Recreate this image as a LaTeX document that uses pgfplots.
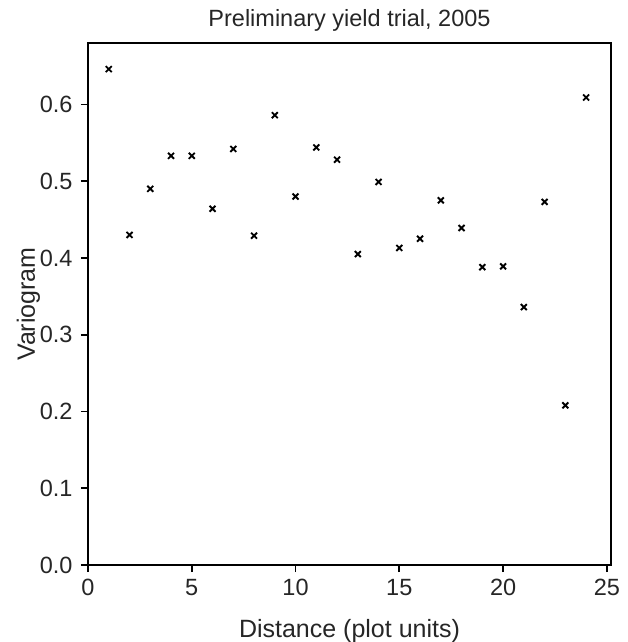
\documentclass[border=0pt]{standalone}
\usepackage{fontspec}
\setmainfont{Liberation Sans}
\usepackage{pgfplots}
\pgfplotsset{compat=1.18}
\begin{document}
\begin{tikzpicture}
\path[use as bounding box] (-88pt,-77pt) rectangle (540pt,565pt);
\begin{axis}[
  at={(0,0)}, anchor=south west,
  scale only axis,
  width=523pt, height=522pt,
  xmin=0, xmax=25.2,
  ymin=0, ymax=0.68,
  xtick={0,5,10,15,20,25},
  ytick={0,0.1,0.2,0.3,0.4,0.5,0.6},
  tick pos=left,
  tick align=outside,
  major tick length=7pt,
  axis line style={line width=1.7pt},
  tick style={line width=1.7pt, black},
  /pgf/number format/assume math mode=true,
  yticklabel style={xshift=-5pt, /pgf/number format/fixed, /pgf/number format/fixed zerofill, /pgf/number format/precision=1},
  xticklabel style={yshift=-4pt},
  ticklabel style={font=\fontsize{23.5}{27}\selectfont, text=black!85},
  title={Preliminary yield trial, 2005},
  title style={font=\fontsize{23.5}{28}\selectfont, text=black!85, at={(axis description cs:0.5,1)}, anchor=base, yshift=10pt},
  xlabel={Distance (plot units)},
  xlabel style={font=\fontsize{25}{29}\selectfont, text=black!85, at={(axis description cs:0.5,0)}, anchor=base, yshift=-72pt},
  ylabel={Variogram},
  ylabel style={font=\fontsize{25}{29}\selectfont, text=black!85, at={(axis description cs:0,0.5)}, anchor=base, yshift=53pt},
]
\addplot[only marks, mark=x, mark size=4.2pt, mark options={line width=1.9pt}, black] coordinates {
(1,0.646) (2,0.430) (3,0.490) (4,0.533) (5,0.533) (6,0.464)
(7,0.542) (8,0.429) (9,0.586) (10,0.480) (11,0.544) (12,0.528)
(13,0.405) (14,0.499) (15,0.413) (16,0.425) (17,0.475) (18,0.439)
(19,0.388) (20,0.389) (21,0.336) (22,0.473) (23,0.208) (24,0.609)
};
\end{axis}
\end{tikzpicture}
\end{document}
